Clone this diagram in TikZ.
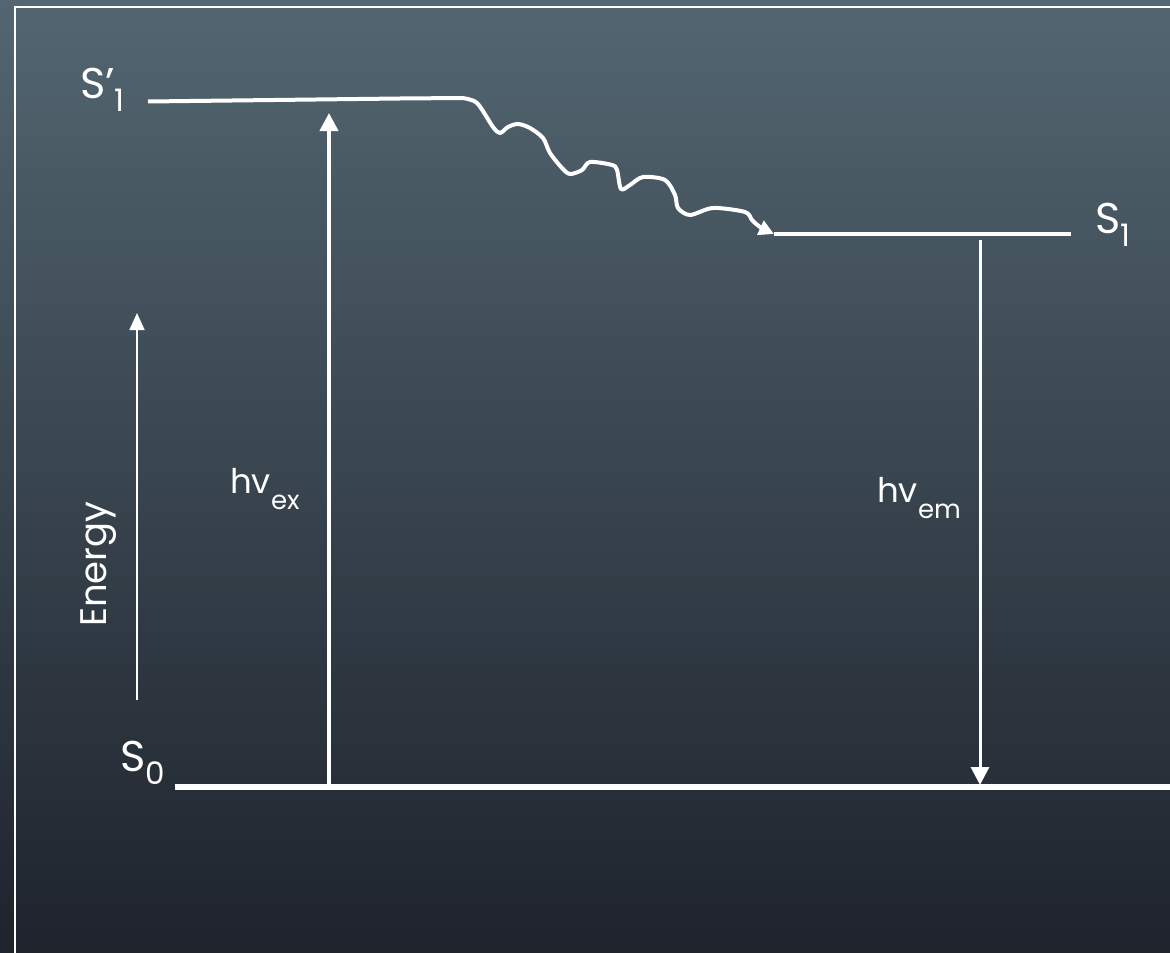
\documentclass[tikz,border=0pt]{standalone}
\usepackage{fontspec}
\setmainfont{Poppins}
\usetikzlibrary{arrows.meta, positioning}
\definecolor{bgtop}{HTML}{536671}
\definecolor{bgmid}{HTML}{3B4852}
\definecolor{bgbot}{HTML}{1E232C}
\newcommand{\lvsub}[1]{\raisebox{-13pt}{\fontsize{31}{31}\selectfont #1}}
\newcommand{\hvsub}[1]{\raisebox{-16pt}{\fontsize{26}{26}\selectfont #1}}

\begin{document}
\begin{tikzpicture}[x=1pt, y=-1pt,
  lbl/.style={text=white, inner sep=0pt, anchor=base west, font=\fontsize{43}{43}\selectfont},
  hvlbl/.style={text=white, inner sep=0pt, anchor=base west, font=\fontsize{34}{34}\selectfont},
  level/.style={draw=white, line width=3.5pt},
  photon/.style={draw=white, line width=4pt, -{Triangle[width=18pt,length=18pt]}},
]
\useasboundingbox (0,0) rectangle (1170,953);
\shade[top color=bgtop, middle color=bgmid, bottom color=bgbot] (0,0) rectangle (1170,953);
\draw[white, line width=2pt] (1170,7) -- (15,7) -- (15,953);

% energy levels
\coordinate (snpL) at (148,101.5);
\coordinate (snpM) at (400,98.5);
\coordinate (snpR) at (462,98);
\coordinate (soneL) at (774,234);
\coordinate (soneR) at (1071,234);
\coordinate (szL) at (175,787);
\coordinate (szR) at (1170,787);
\draw[level, line width=4pt] (snpL) -- (snpM) -- (snpR);
\draw[level] (soneL) -- (soneR);
\draw[level, line width=6pt] (szL) -- (szR);

\node[lbl] (snp) at (80,98) {S’\lvsub{1}};
\node[lbl] (sone) at (1095,233) {S\lvsub{1}};
\node[lbl] (szero) at (120,771) {S\lvsub{0}};

% relaxation
\draw[draw=white, line width=4pt, line join=round, -{Triangle[width=15pt,length=15pt]}]
  plot[smooth, tension=0.5] coordinates {(snpR) (477,103) (493,127) (500,133) (508,127)
  (518,124) (530,128) (543,138) (550,153) (562,168) (570,174) (582,170) (590,162)
  (612,165) (617,170) (621,189) (630,185) (643,177) (665,180) (675,195) (678,208)
  (690,215) (713,208) (745,212) (752,220) (760,227) (soneL)};

% absorption and emission
\coordinate (exlo) at (329,787);
\coordinate (exhi) at (329,113);
\coordinate (emhi) at (980,240);
\coordinate (emlo) at (980,785);
\draw[photon] (exlo) -- (exhi);
\draw[photon, line width=3pt] (emhi) -- (emlo);
\node[hvlbl] (hvex) at (230,493) {hv\hvsub{ex}};
\node[hvlbl] (hvem) at (877,502) {hv\hvsub{em}};

% energy axis
\coordinate (enlo) at (137,700);
\coordinate (enhi) at (137,313);
\draw[white, line width=1.8pt, -{Triangle[width=15pt,length=17pt]}] (enlo) -- (enhi);
\node[text=white, inner sep=0pt, anchor=base west, rotate=90,
  font=\fontsize{37}{37}\selectfont] (energy) at (106,627) {Energy};
\end{tikzpicture}
\end{document}
